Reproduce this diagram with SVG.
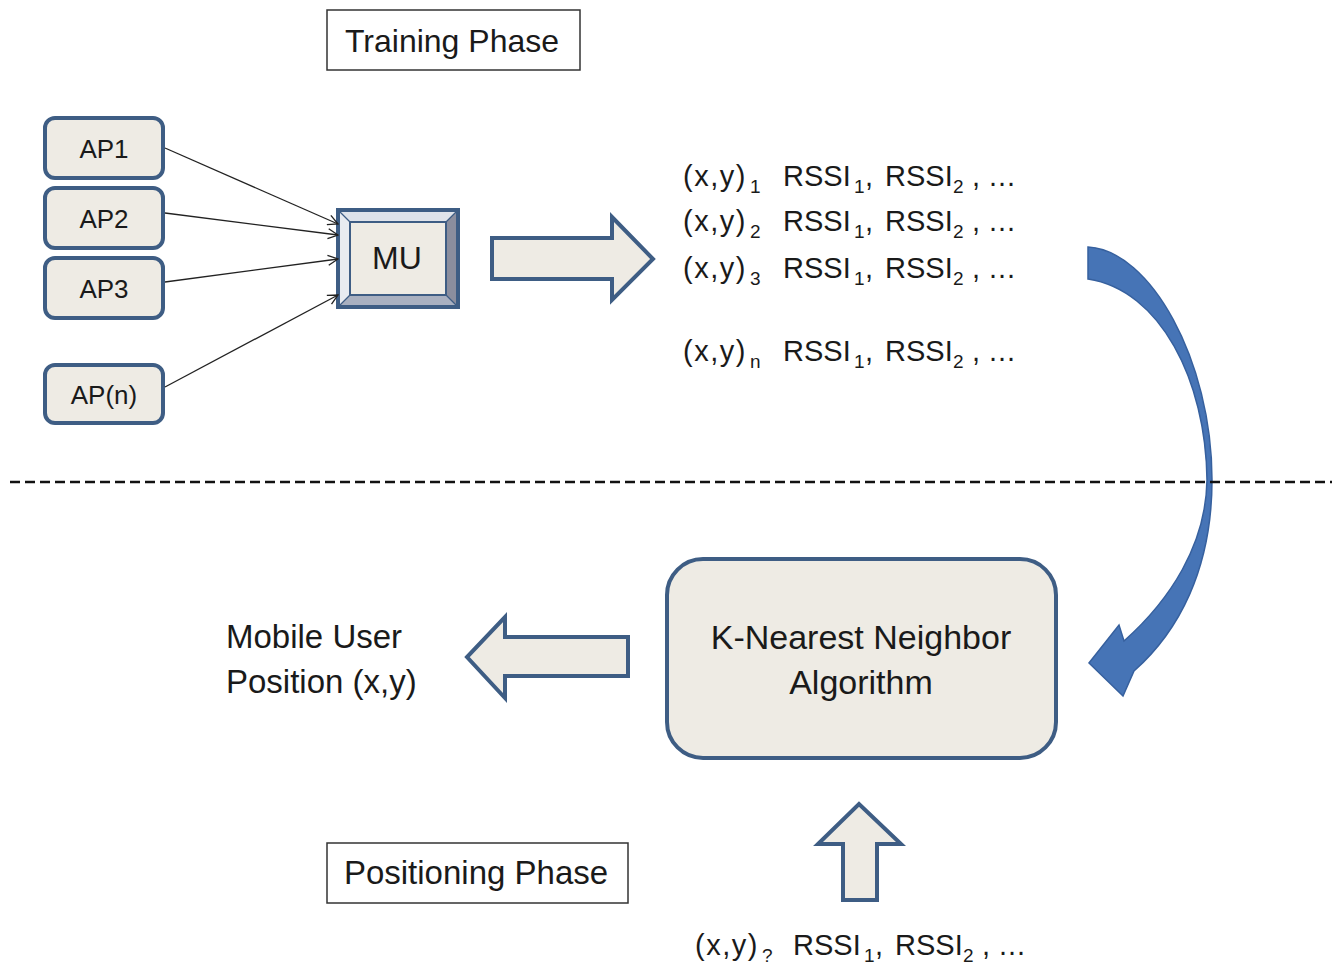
<svg xmlns="http://www.w3.org/2000/svg" width="1342" height="965" viewBox="0 0 1342 965">
<style>
text{font-family:"Liberation Sans",Arial,sans-serif;fill:#1a1a1a}
.box{fill:#eeebe4;stroke:#3e5d84;stroke-width:4}
.lbl{fill:#fff;stroke:#333;stroke-width:1.5}
.conn{stroke:#222;stroke-width:1.3;fill:none}
.big{fill:#eeebe4;stroke:#3e5d84;stroke-width:4;stroke-linejoin:miter}
.t26{font-size:26px}
.t32{font-size:32px}
.t33{font-size:33px}
.t34{font-size:34px}
.row{font-size:29px}
.xy{letter-spacing:1.5px}
.sub{font-size:19px}
.dots{letter-spacing:1px}
</style>
<defs>
<marker id="open" viewBox="0 0 12 12" refX="11" refY="6" markerWidth="12" markerHeight="12" markerUnits="userSpaceOnUse" orient="auto">
<path d="M1,1 L11,6 L1,11" fill="none" stroke="#222" stroke-width="1.3"/>
</marker>
</defs>

<g id="training-label">
<rect class="lbl" x="327" y="10" width="253" height="60"/>
<text class="t32" x="452" y="52" text-anchor="middle">Training Phase</text>
</g>

<g id="ap1"><rect class="box" x="45" y="118" width="118" height="60" rx="10"/><text class="t26" x="104" y="158" text-anchor="middle">AP1</text></g>
<g id="ap2"><rect class="box" x="45" y="188" width="118" height="60" rx="10"/><text class="t26" x="104" y="228" text-anchor="middle">AP2</text></g>
<g id="ap3"><rect class="box" x="45" y="258" width="118" height="60" rx="10"/><text class="t26" x="104" y="298" text-anchor="middle">AP3</text></g>
<g id="apn"><rect class="box" x="45" y="365" width="118" height="58" rx="10"/><text class="t26" x="104" y="404" text-anchor="middle">AP(n)</text></g>

<g id="mu">
<polygon points="338,210 458,210 446,222 350,222" fill="#dfe3ea"/>
<polygon points="338,210 350,222 350,295 338,307" fill="#e8ebf0"/>
<polygon points="458,210 458,307 446,295 446,222" fill="#8b8e9e"/>
<polygon points="338,307 458,307 446,295 350,295" fill="#a9b0c0"/>
<g stroke="#3e5d84" stroke-width="1.2"><line x1="338" y1="210" x2="350" y2="222"/><line x1="458" y1="210" x2="446" y2="222"/><line x1="458" y1="307" x2="446" y2="295"/><line x1="338" y1="307" x2="350" y2="295"/></g>
<rect x="350" y="222" width="96" height="73" fill="#eeebe4" stroke="#3e5d84" stroke-width="2"/>
<rect x="338" y="210" width="120" height="97" fill="none" stroke="#3e5d84" stroke-width="4"/>
<text class="t32" x="397" y="269" text-anchor="middle">MU</text>
</g>

<g id="connectors">
<line class="conn" x1="165" y1="148" x2="338" y2="224" marker-end="url(#open)"/>
<line class="conn" x1="165" y1="213" x2="338" y2="235" marker-end="url(#open)"/>
<line class="conn" x1="165" y1="282" x2="338" y2="259" marker-end="url(#open)"/>
<line class="conn" x1="165" y1="387" x2="338" y2="295" marker-end="url(#open)"/>
<path id="arrow-right" class="big" d="M492,238 L612,238 L612,217 L653,259 L612,300 L612,279 L492,279 Z"/>
<path id="arrow-curved" d="M1088,247 C1150,250 1212,360 1212,480 C1212,570 1178,632 1134,671 L1123,696 L1089,663 L1119,625 L1124,641 C1170,600 1206,545 1207,480 C1206,380 1160,290 1088,279 Z" fill="#4674b6" stroke="#36609e" stroke-width="1.5" stroke-linejoin="miter"/>
<path id="arrow-left" class="big" d="M628,637 L505,637 L505,617 L467,657 L505,698 L505,676 L628,676 Z"/>
<path id="arrow-up" class="big" d="M843,900 L843,844 L818,844 L859,804 L901,844 L877,844 L877,900 Z"/>
</g>

<g id="fingerprints">
<text class="row" y="186"><tspan class="xy" x="683">(x,y)</tspan><tspan class="sub" x="750" dy="7">1</tspan><tspan x="783" dy="-7">RSSI</tspan><tspan class="sub" x="854" dy="7">1</tspan><tspan x="865" dy="-7">,</tspan><tspan x="885">RSSI</tspan><tspan class="sub" x="953" dy="7">2</tspan><tspan x="972" dy="-7">,</tspan><tspan class="dots" x="989">...</tspan></text>
<text class="row" y="231"><tspan class="xy" x="683">(x,y)</tspan><tspan class="sub" x="750" dy="7">2</tspan><tspan x="783" dy="-7">RSSI</tspan><tspan class="sub" x="854" dy="7">1</tspan><tspan x="865" dy="-7">,</tspan><tspan x="885">RSSI</tspan><tspan class="sub" x="953" dy="7">2</tspan><tspan x="972" dy="-7">,</tspan><tspan class="dots" x="989">...</tspan></text>
<text class="row" y="278"><tspan class="xy" x="683">(x,y)</tspan><tspan class="sub" x="750" dy="7">3</tspan><tspan x="783" dy="-7">RSSI</tspan><tspan class="sub" x="854" dy="7">1</tspan><tspan x="865" dy="-7">,</tspan><tspan x="885">RSSI</tspan><tspan class="sub" x="953" dy="7">2</tspan><tspan x="972" dy="-7">,</tspan><tspan class="dots" x="989">...</tspan></text>
<text class="row" y="361"><tspan class="xy" x="683">(x,y)</tspan><tspan class="sub" x="750" dy="7">n</tspan><tspan x="783" dy="-7">RSSI</tspan><tspan class="sub" x="854" dy="7">1</tspan><tspan x="865" dy="-7">,</tspan><tspan x="885">RSSI</tspan><tspan class="sub" x="953" dy="7">2</tspan><tspan x="972" dy="-7">,</tspan><tspan class="dots" x="989">...</tspan></text>
</g>

<line id="divider" x1="10" y1="482" x2="1332" y2="482" stroke="#111" stroke-width="2.5" stroke-dasharray="10,5"/>

<g id="knn">
<rect class="box" x="667" y="559" width="389" height="199" rx="36"/>
<text class="t34" x="861" y="649" text-anchor="middle">K-Nearest Neighbor</text>
<text class="t34" x="861" y="694" text-anchor="middle">Algorithm</text>
</g>

<g id="position-output">
<text class="t33" x="226" y="648">Mobile User</text>
<text class="t33" x="226" y="693">Position (x,y)</text>
</g>

<g id="query">
<text class="row" y="955"><tspan class="xy" x="695">(x,y)</tspan><tspan class="sub" x="762" dy="7">?</tspan><tspan x="793" dy="-7">RSSI</tspan><tspan class="sub" x="864" dy="7">1</tspan><tspan x="875" dy="-7">,</tspan><tspan x="895">RSSI</tspan><tspan class="sub" x="963" dy="7">2</tspan><tspan x="982" dy="-7">,</tspan><tspan class="dots" x="999">...</tspan></text>
</g>

<g id="positioning-label">
<rect class="lbl" x="327" y="843" width="301" height="60"/>
<text class="t33" x="476" y="884" text-anchor="middle">Positioning Phase</text>
</g>
</svg>
